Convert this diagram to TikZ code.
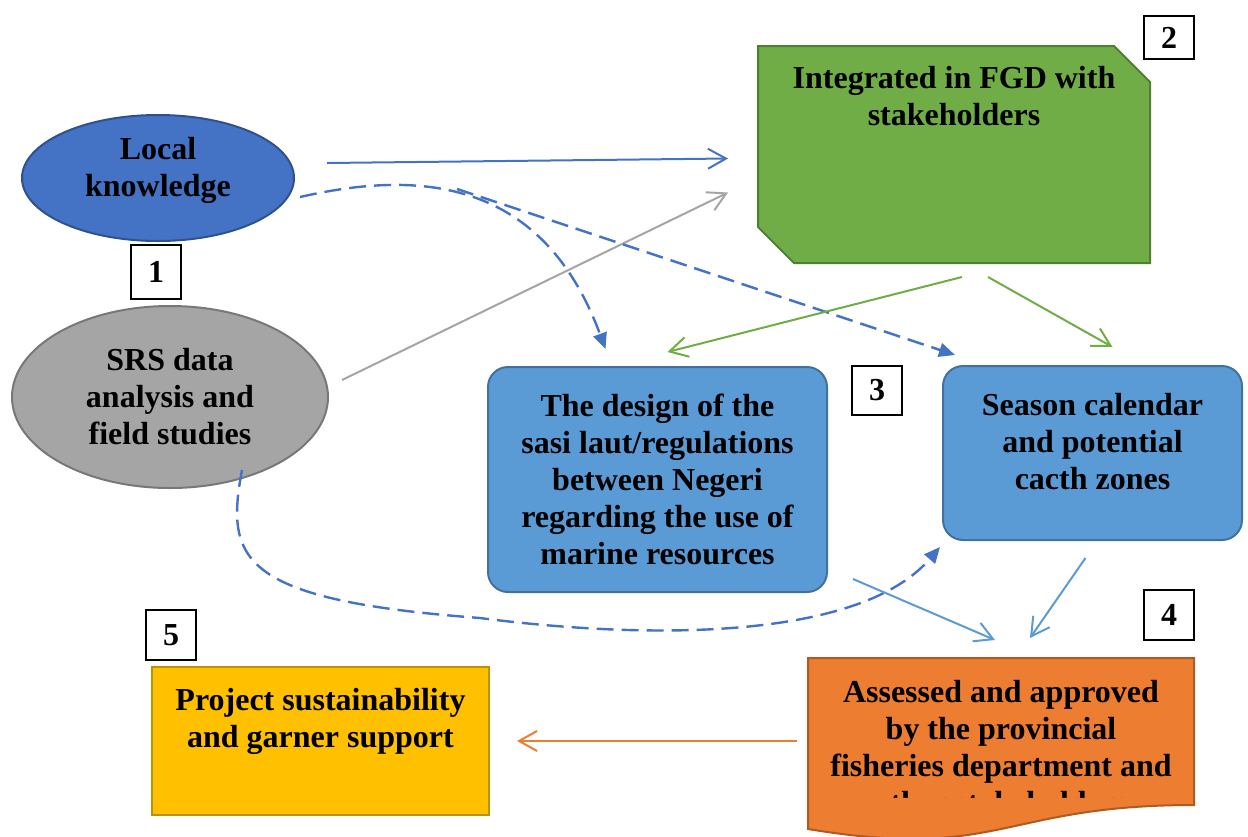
\documentclass[tikz,border=0pt]{standalone}
\usepackage{fontspec}
\setmainfont{Liberation Serif}
\usetikzlibrary{arrows.meta,shapes.geometric,backgrounds}
\definecolor{lkblue}{HTML}{4472C4}
\definecolor{lkline}{HTML}{2F528F}
\definecolor{srsgray}{HTML}{A5A5A5}
\definecolor{srsline}{HTML}{787878}
\definecolor{fgdgreen}{HTML}{70AD47}
\definecolor{fgdline}{HTML}{507E32}
\definecolor{boxblue}{HTML}{5B9BD5}
\definecolor{boxline}{HTML}{41719C}
\definecolor{apporange}{HTML}{ED7D31}
\definecolor{appline}{HTML}{AE5A21}
\definecolor{supyellow}{HTML}{FFC000}
\definecolor{supline}{HTML}{BF9000}

\begin{document}
\begin{tikzpicture}[
		x=0.5pt, y=-0.5pt,% one unit = one pixel of the layout, y runs down
		txt/.style = {font=\bfseries\fontsize{16}{18.5}\selectfont, align=center},
		oval/.style = {ellipse, txt, line width=1pt, inner sep=0pt, outer sep=0pt},
		panel/.style = {rectangle, txt, line width=1pt, inner sep=0pt, outer sep=0pt},
		numbox/.style = {rectangle, draw, line width=1pt, txt, minimum width=25pt,
			inner sep=0pt, outer sep=0pt},
		open/.style = {line width=1pt, -{Straight Barb[length=9pt,width=10pt,line width=1pt]}},
		dashlink/.style = {line width=1.2pt, dash pattern=on 8.5pt off 4pt,
			-{Triangle[length=8pt,width=7pt]}},
		]
		\useasboundingbox (0,0) rectangle (1248,836);
		% nodes
		\node[oval, fill=lkblue, draw=lkline, minimum width=136pt, minimum height=63pt,
			label={[txt, yshift=4pt]center:{Local\\knowledge}}]
			(lk) at (158,178) {};
		\node[oval, fill=srsgray, draw=srsline, minimum width=158pt, minimum height=91pt]
			(srs) at (170,397) {SRS data\\analysis and\\field studies};
		\node[panel, minimum width=196pt, minimum height=108.5pt,
			label={[txt, anchor=north, yshift=-6.5pt]north:{Integrated in FGD with\\stakeholders}}]
			(fgd) at (954,154.5) {};
		\node[panel, fill=boxblue, draw=boxline, rounded corners=10pt,
			minimum width=169.5pt, minimum height=112.5pt]
			(design) at (657.5,479.5) {The design of the\\sasi laut/regulations\\between Negeri\\regarding the use of\\marine resources};
		\node[panel, fill=boxblue, draw=boxline, rounded corners=10pt,
			minimum width=149.5pt, minimum height=87pt,
			label={[txt, anchor=north, yshift=-10pt]north:{Season calendar\\and potential\\cacth zones}}]
			(season) at (1092.5,453) {};
		\begin{scope}
			\clip (800,640) rectangle (1210,797);
			\node[panel, minimum width=193pt, minimum height=73.5pt,
				label={[txt, anchor=north, yshift=-7.5pt]north:{Assessed and approved\\by the provincial\\fisheries department and\\other stakeholders}}]
				(approve) at (1001,731.5) {};
		\end{scope}
		\node[panel, fill=supyellow, draw=supline, minimum width=168.5pt, minimum height=74pt,
			label={[txt, anchor=north, yshift=-7pt]north:{Project sustainability\\and garner support}}]
			(support) at (320.5,741) {};
		\foreach \n/\x/\y/\h in {1/156/272/27pt, 2/1169/37.5/21.5pt, 3/877/390.5/24.5pt,
			4/1169/615/25pt, 5/171/635/25pt}
		\node[numbox, minimum height=\h] (n\n) at (\x,\y) {\n};
		% shapes behind the green and orange nodes
		\begin{pgfonlayer}{background}
			\draw[fill=fgdgreen, draw=fgdline, line width=1pt] (fgd.north west)
				-- ([xshift=-18pt]fgd.north east) -- ([yshift=-18pt]fgd.north east)
				-- (fgd.south east) -- ([xshift=18pt]fgd.south west)
				-- ([yshift=18pt]fgd.south west) -- cycle;
			\draw[fill=apporange, draw=appline, line width=1pt] (approve.north west)
				-- (approve.north east) -- (approve.south east)
				.. controls (1001,805) and (1001,861) .. (808,829) -- cycle;
		\end{pgfonlayer}
		% connectors
		\coordinate (split) at (457,189);
		\draw[open, lkblue] ([shift={(33,-15)}]lk.east) -- ([shift={(-30,4)}]fgd.west);
		\draw[open, srsgray] ([shift={(14,-17)}]srs.east) -- ([shift={(-30,38)}]fgd.west);
		\draw[dashlink, lkblue] ([shift={(6,19)}]lk.east)
			.. controls (410,172) and (540,172) .. ([shift={(-52,-18)}]design.north);
		\draw[dashlink, lkblue] (split) -- ([shift={(12,-11)}]season.north west);
		\draw[dashlink, lkblue] ([shift={(72,-18)}]srs.south)
			.. controls (225,560) and (240,600) .. (480,618)
			.. controls (650,640) and (860,640) .. ([shift={(-3,7)}]season.south west);
		\draw[open, fgdgreen] ([shift={(8,14)}]fgd.south) -- ([shift={(10,-15)}]design.north);
		\draw[open, fgdgreen] ([shift={(34,14)}]fgd.south) -- ([shift={(20,-19)}]season.north);
		\draw[open, boxblue] ([shift={(26,-13)}]design.south east) -- ([shift={(-6,-18)}]approve.north);
		\draw[open, boxblue] ([shift={(-7,18)}]season.south) -- ([shift={(29,-20)}]approve.north);
		\draw[open, apporange] ([shift={(-11,9.5)}]approve.west) -- ([shift={(28,0)}]support.east);
	\end{tikzpicture}
\end{document}
